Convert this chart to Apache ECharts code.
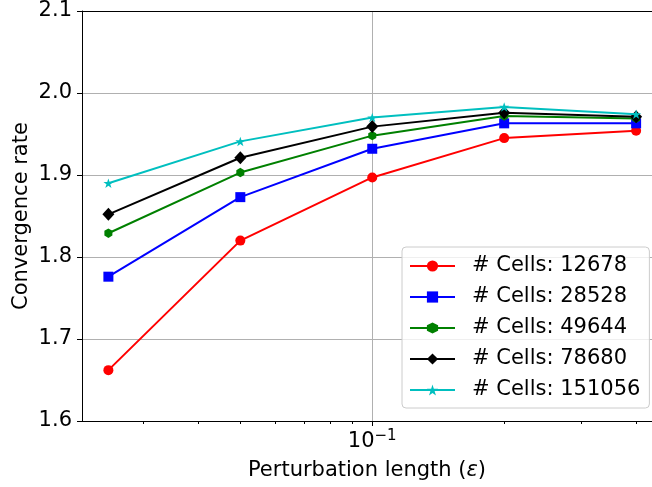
<!DOCTYPE html>
<html>
<head>
<meta charset="utf-8">
<script src="https://cdn.jsdelivr.net/npm/echarts@6/dist/echarts.min.js"></script>
<style>
  html, body { margin: 0; padding: 0; background: #fff; }
  #chart { width: 652px; height: 487px; }
</style>
</head>
<body>
<div id="chart"></div>
<script>
// Perturbation lengths (x, log scale)
const epsilon = [0.025, 0.05, 0.1, 0.2, 0.4];

// Convergence rate per mesh size
const cells12678  = [1.662, 1.820, 1.897, 1.945, 1.954];
const cells28528  = [1.776, 1.873, 1.932, 1.963, 1.963];
const cells49644  = [1.829, 1.903, 1.948, 1.972, 1.969];
const cells78680  = [1.852, 1.921, 1.959, 1.976, 1.971];
const cells151056 = [1.890, 1.941, 1.970, 1.983, 1.974];

const seriesNames = ['# Cells: 12678', '# Cells: 28528', '# Cells: 49644', '# Cells: 78680', '# Cells: 151056'];

// Axis ticks
const yTicks = [1.6, 1.7, 1.8, 1.9, 2.0, 2.1];
const xMajorTicks = [0.1];
const xMinorTicks = [0.03, 0.04, 0.05, 0.06, 0.07, 0.08, 0.09, 0.2, 0.3, 0.4];

const FONT = 'DejaVu Sans';
const hexagon = 'path://M0,-1 L0.866,-0.5 L0.866,0.5 L0,1 L-0.866,0.5 L-0.866,-0.5 Z';
const star = 'path://M0,-1 L0.2245,-0.309 L0.951,-0.309 L0.3633,0.118 L0.588,0.809 L0,0.382 L-0.588,0.809 L-0.3633,0.118 L-0.951,-0.309 L-0.2245,-0.309 Z';

const styles = [
  { color: '#ff0000', symbol: 'circle', size: 10 },
  { color: '#0000ff', symbol: 'rect', size: 10 },
  { color: '#008000', symbol: hexagon, size: [8, 9.4] },
  { color: '#000000', symbol: 'diamond', size: [12, 13] },
  { color: '#00bfbf', symbol: star, size: [10, 9.5] }
];
const values = [cells12678, cells28528, cells49644, cells78680, cells151056];

// 5% log-scale margin on each side; the plot is cut off a little on the right,
// so only part of the padded range fits inside the drawing area.
const span = Math.log10(epsilon[epsilon.length - 1] / epsilon[0]);
const padDec = span * 0.05;
const lo = Math.log10(epsilon[0]) - padDec;
const hiFull = Math.log10(epsilon[epsilon.length - 1]) + padDec;
const visibleFraction = 570 / 580.5;
const xMin = Math.pow(10, lo);
const xMax = Math.pow(10, lo + (hiFull - lo) * visibleFraction);

const supDigits = (n) => String(n).replace('-', '\u2212');

const chart = echarts.init(document.getElementById('chart'));
chart.setOption({
  animation: false,
  backgroundColor: '#fff',
  textStyle: { fontFamily: FONT },
  grid: { left: 82, top: 11, right: 0, bottom: 66, show: false },
  xAxis: [
    {
      type: 'log', logBase: 10, min: xMin, max: xMax,
      position: 'bottom',
      name: 'Perturbation length ({i|ε})',
      nameLocation: 'middle', nameGap: 39,
      nameTextStyle: {
        fontFamily: FONT, fontSize: 21, color: '#000',
        rich: { i: { fontFamily: FONT, fontSize: 21, fontStyle: 'italic', color: '#000' } }
      },
      axisLine: { show: true, lineStyle: { color: '#000', width: 1 } },
      axisTick: { show: true, inside: false, length: 5, customValues: xMajorTicks, lineStyle: { color: '#000', width: 1 } },
      axisLabel: {
        show: true, margin: 8, customValues: xMajorTicks,
        formatter: (v) => '{b|10}{s|' + supDigits(Math.round(Math.log10(v))) + '}',
        rich: {
          b: { fontFamily: FONT, fontSize: 21, color: '#000' },
          s: { fontFamily: FONT, fontSize: 15, color: '#000', padding: [0, 0, 10, 0] }
        }
      },
      splitLine: { show: true, lineStyle: { color: '#b0b0b0', width: 1 } },
      minorTick: { show: false }
    },
    {
      type: 'log', logBase: 10, min: xMin, max: xMax,
      position: 'bottom', offset: 0,
      axisLine: { show: false },
      axisTick: { show: true, length: 3, customValues: xMinorTicks, lineStyle: { color: '#000', width: 1 } },
      axisLabel: { show: false },
      splitLine: { show: false }
    },
    {
      type: 'log', logBase: 10, min: xMin, max: xMax,
      position: 'top', offset: 0,
      axisLine: { show: true, lineStyle: { color: '#000', width: 1 } },
      axisTick: { show: false },
      axisLabel: { show: false },
      splitLine: { show: false }
    }
  ],
  yAxis: {
    type: 'value', min: 1.6, max: 2.1, interval: 0.1,
    name: 'Convergence rate',
    nameLocation: 'middle', nameGap: 50, nameMoveOverlap: false,
    nameTextStyle: { fontFamily: FONT, fontSize: 21, color: '#000' },
    axisLine: { show: true, lineStyle: { color: '#000', width: 1 } },
    axisTick: { show: true, length: 5, lineStyle: { color: '#000', width: 1 } },
    axisLabel: {
      margin: 10, fontFamily: FONT, fontSize: 21, color: '#000',
      customValues: yTicks,
      formatter: (v) => v.toFixed(1)
    },
    splitLine: { show: true, lineStyle: { color: '#b0b0b0', width: 1 } }
  },
  legend: {
    orient: 'vertical',
    left: 402, top: 247,
    padding: [7, 9, 6, 7],
    itemWidth: 45, itemHeight: 14, itemGap: 7,
    backgroundColor: 'rgba(255,255,255,0.8)',
    borderColor: '#cccccc', borderWidth: 1, borderRadius: 4,
    textStyle: { fontFamily: FONT, fontSize: 21, color: '#000', lineHeight: 24, padding: [0, 0, 0, 12] },
    data: seriesNames
  },
  series: seriesNames.map((name, i) => ({
    name,
    type: 'line',
    xAxisIndex: 0,
    data: epsilon.map((x, j) => [x, values[i][j]]),
    symbol: styles[i].symbol,
    symbolSize: styles[i].size,
    showAllSymbol: true,
    color: styles[i].color,
    itemStyle: { color: styles[i].color },
    lineStyle: { color: styles[i].color, width: 2 },
    z: 2 + i
  }))
});
</script>
</body>
</html>
